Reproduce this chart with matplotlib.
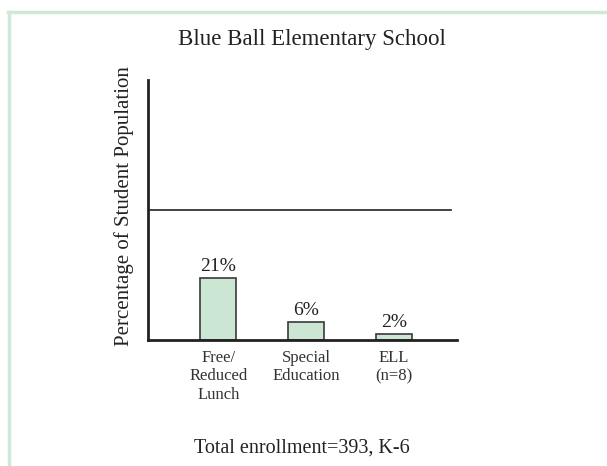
import matplotlib
matplotlib.use("Agg")
import matplotlib.pyplot as plt
from matplotlib.lines import Line2D

# Data.
categories = ["Free/\nReduced\nLunch", "Special\nEducation", "ELL\n(n=8)"]
percentages = [21, 6, 2]
value_labels = ["21%", "6%", "2%"]
reference_level = 44

title = "Blue Ball Elementary School"
y_label = "Percentage of Student Population"
footnote = "Total enrollment=393, K-6"

plt.rcParams["font.family"] = ["Liberation Serif", "DejaVu Serif"]

fig = plt.figure(figsize=(6.07, 4.66), dpi=100)

# Light green frame (top and left edges only).
frame_color = "#cfe8d7"
fig.add_artist(Line2D([7.5 / 607, 1.0], [1 - 11.5 / 466] * 2,
    transform=fig.transFigure, color=frame_color, lw=2.5))
fig.add_artist(Line2D([8.5 / 607] * 2, [0.0, 1 - 11.5 / 466],
    transform=fig.transFigure, color=frame_color, lw=2.5))

ax = fig.add_axes([148 / 607, 1 - 340 / 466, 309 / 607, 260 / 466])

x = list(range(len(categories)))
ax.bar(x, percentages, width=0.41, color="#cce6d4", edgecolor="#3a3a3a",
    linewidth=1.2, zorder=2)
for xi, val, lab in zip(x, percentages, value_labels):
    ax.text(xi, val + 1.0, lab, ha="center", va="bottom", fontsize=14,
        color="#222222")

ax.axhline(reference_level, xmin=0, xmax=0.98, color="#222222", lw=1.2)

ax.set_xlim(-0.80, 2.72)
ax.set_ylim(0, 88)

for side in ["top", "right"]:
    ax.spines[side].set_visible(False)
for side in ["left", "bottom"]:
    ax.spines[side].set_linewidth(2)
    ax.spines[side].set_color("#222222")

ax.set_yticks([])
ax.set_xticks(x)
ax.set_xticklabels(categories, fontsize=12, color="#333333", linespacing=1.2)
ax.tick_params(axis="x", length=0, pad=7)

ax.set_ylabel(y_label, fontsize=15, color="#222222")
ax.yaxis.set_label_coords(-0.045, 0.515)

fig.text(312 / 607, 1 - 40 / 466, title, ha="center", va="center",
    fontsize=16.5, color="#222222")
fig.text(302 / 607, 1 - 448 / 466, footnote, ha="center", va="center",
    fontsize=14.5, color="#222222")

fig.savefig("out.png", dpi=100)
